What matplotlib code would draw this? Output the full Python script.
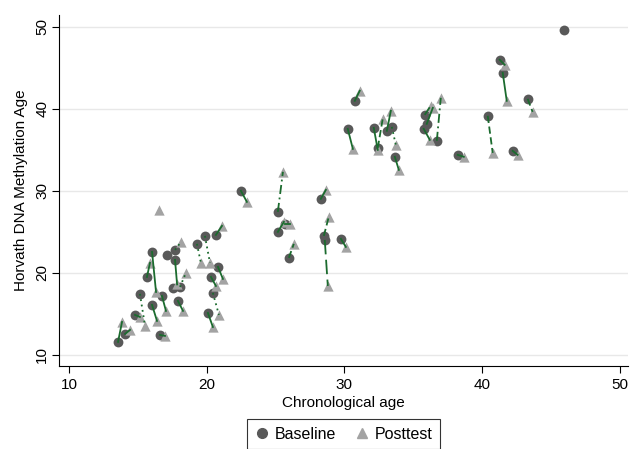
import numpy as np
import matplotlib
matplotlib.use('Agg')
import matplotlib.pyplot as plt
from matplotlib.lines import Line2D

base_x = [13.56, 14.07, 14.79, 15.15, 15.66, 16.03, 16.03, 16.61, 16.75, 17.70,
          17.70, 18.06, 17.91, 19.29, 19.87, 20.67, 20.82, 20.31, 20.45, 20.09,
          22.49, 25.17, 25.17, 25.68, 25.97, 28.29, 28.51, 28.58, 29.75, 30.25,
          30.76, 32.14, 32.43, 33.09, 33.45, 33.67, 35.84, 35.99, 35.77, 36.72,
          38.24, 40.42, 41.29, 41.51, 42.23, 43.32]
base_y = [11.59, 12.56, 14.88, 17.44, 19.51, 22.56, 16.10, 12.44, 17.20, 22.80,
          21.59, 18.29, 16.59, 23.54, 24.51, 24.63, 20.73, 19.51, 17.56, 15.12,
          30.00, 27.44, 25.00, 25.98, 21.83, 29.02, 24.51, 24.02, 24.15, 37.56,
          40.98, 37.68, 35.24, 37.32, 37.80, 34.15, 39.27, 38.17, 37.56, 36.10,
          34.39, 39.15, 45.98, 44.39, 34.88, 41.22]
post_x = [13.85, 14.43, 15.15, 15.52, 15.88, 16.32, 16.39, 16.97, 17.04, 18.13,
          17.85, 18.49, 18.28, 19.58, 20.24, 21.11, 21.18, 20.67, 20.89, 20.45,
          22.92, 25.54, 25.61, 26.04, 26.33, 28.66, 28.87, 28.80, 30.11, 30.62,
          31.12, 32.43, 32.79, 33.38, 33.74, 33.96, 36.28, 36.43, 36.21, 37.01,
          38.68, 40.78, 41.65, 41.80, 42.59, 43.68]
post_y = [14.02, 13.05, 14.63, 13.54, 21.22, 17.68, 14.15, 12.32, 15.37, 23.78,
          18.60, 20.00, 15.37, 21.22, 21.22, 25.73, 19.27, 18.41, 14.88, 13.41,
          28.66, 32.32, 26.22, 25.98, 23.54, 30.12, 26.83, 18.41, 23.17, 35.12,
          42.20, 35.00, 38.78, 39.76, 35.61, 32.56, 40.37, 40.12, 36.22, 41.34,
          34.15, 34.63, 45.37, 40.98, 34.39, 39.63]

# Unpaired observations
solo_base_x = [17.11, 17.55, 45.93]
solo_base_y = [22.20, 18.17, 49.63]
solo_post_x = [16.53]
solo_post_y = [27.68]

# line pattern for each connecting segment
LS = {'s': '-', 'd': (0, (4, 2)), 'o': (0, (1, 2)), 'dd': (0, (5, 2, 1, 2)), 'l': (0, (8, 3))}
pair_ls = ['s', 's', 's', 'o', 's', 's', 's', 's', 's', 'o',
           's', 'o', 's', 'o', 'o', 's', 's', 's', 'o', 's',
           's', 'dd', 's', 's', 'd', 's', 'd', 'l', 's', 's',
           's', 's', 'd', 's', 'o', 's', 'dd', 's', 's', 'dd',
           's', 'd', 's', 's', 's', 'd']

plt.rcParams['font.family'] = ['Liberation Sans', 'DejaVu Sans']

fig = plt.figure(figsize=(6.31, 4.49), dpi=100)
ax = fig.add_axes([0.0935, 0.185, 0.9015, 0.782])

base_col = '#595959'
post_col = '#a3a3a3'
line_col = '#1b6b2e'

ax.scatter(base_x + solo_base_x, base_y + solo_base_y, s=50, marker='o',
           color=base_col, linewidths=0, zorder=3)
ax.scatter(post_x + solo_post_x, post_y + solo_post_y, s=55, marker='^',
           color=post_col, linewidths=0, zorder=3)

for i in range(len(base_x)):
    ax.plot([base_x[i], post_x[i]], [base_y[i], post_y[i]], color=line_col,
            linestyle=LS[pair_ls[i]], linewidth=1.3, zorder=4)

ax.set_xlim(9.27, 50.6)
ax.set_ylim(8.66, 51.46)
ax.set_xticks([10, 20, 30, 40, 50])
ax.set_yticks([10, 20, 30, 40, 50])
ax.yaxis.grid(True, color='#e8e8e8', linewidth=1.0, zorder=0)
ax.set_axisbelow(True)

for side in ['top', 'right']:
    ax.spines[side].set_visible(False)
for side in ['left', 'bottom']:
    ax.spines[side].set_linewidth(0.8)

ax.tick_params(axis='both', direction='out', length=5, width=0.8, labelsize=11)
ax.tick_params(axis='y', pad=2)
plt.setp(ax.get_yticklabels(), rotation=90, va='center')

ax.set_xlabel('Chronological age', fontsize=11, labelpad=3)
ax.set_ylabel('Horvath DNA Methylation Age', fontsize=11, labelpad=5)

handles = [Line2D([], [], marker='o', color=base_col, linestyle='none', markersize=7),
           Line2D([], [], marker='^', color=post_col, linestyle='none', markersize=7)]
leg = fig.legend(handles, ['Baseline', 'Posttest'], loc='upper center',
                 bbox_to_anchor=(0.544, 0.066), ncol=2, fontsize=11.5,
                 frameon=True, fancybox=False, handletextpad=0.3, columnspacing=1.1,
                 borderpad=0.45, handlelength=1.0, borderaxespad=0)
leg.get_frame().set_edgecolor('black')
leg.get_frame().set_linewidth(0.8)

fig.savefig('out.png', dpi=100)
